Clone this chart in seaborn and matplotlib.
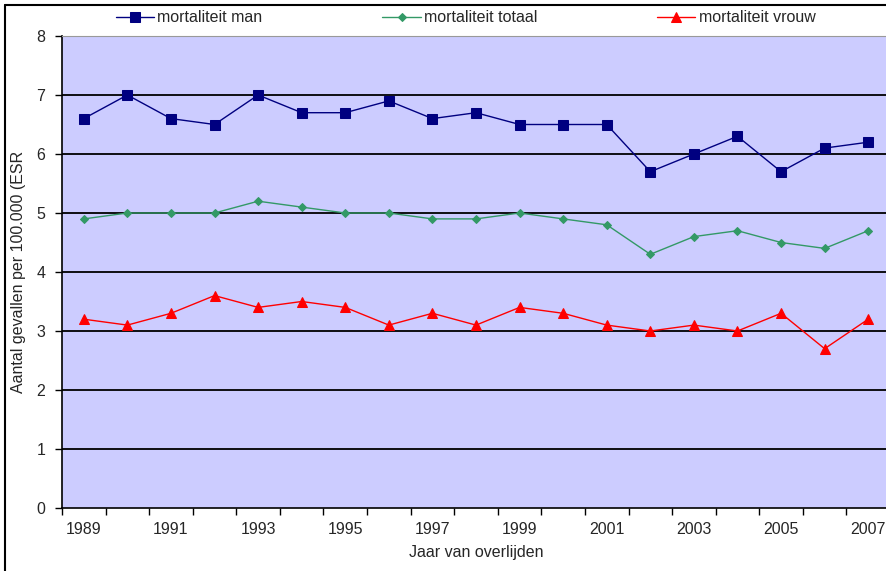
import pandas as pd
import numpy as np
import matplotlib.pyplot as plt
import seaborn as sns
from matplotlib.ticker import FixedLocator

years = list(range(1989, 2008))
man = [6.6, 7.0, 6.6, 6.5, 7.0, 6.7, 6.7, 6.9, 6.6, 6.7, 6.5, 6.5, 6.5, 5.7, 6.0, 6.3, 5.7, 6.1, 6.2]
totaal = [4.9, 5.0, 5.0, 5.0, 5.2, 5.1, 5.0, 5.0, 4.9, 4.9, 5.0, 4.9, 4.8, 4.3, 4.6, 4.7, 4.5, 4.4, 4.7]
vrouw = [3.2, 3.1, 3.3, 3.6, 3.4, 3.5, 3.4, 3.1, 3.3, 3.1, 3.4, 3.3, 3.1, 3.0, 3.1, 3.0, 3.3, 2.7, 3.2]
series_names = ['mortaliteit man', 'mortaliteit totaal', 'mortaliteit vrouw']
year_labels = [str(y) for y in range(1989, 2008, 2)]

df = pd.DataFrame({'Jaar': years, series_names[0]: man,
                   series_names[1]: totaal, series_names[2]: vrouw})
long_df = df.melt(id_vars='Jaar', var_name='reeks', value_name='waarde')

sns.set_style('white')
plt.rcParams['font.family'] = ['Liberation Sans', 'DejaVu Sans']

fig = plt.figure(figsize=(8.87, 5.71), dpi=100)
ax = fig.add_axes([62 / 887, 1 - 508 / 571, 828 / 887, (508 - 36) / 571])
ax.set_facecolor('#CCCCFF')

colors = {series_names[0]: '#000080', series_names[1]: '#339966', series_names[2]: '#FF0000'}
markers = {series_names[0]: 's', series_names[1]: 'D', series_names[2]: '^'}
sizes = {series_names[0]: 6.5, series_names[1]: 4.5, series_names[2]: 6.5}

for name in series_names:
    sub = long_df[long_df['reeks'] == name]
    sns.lineplot(data=sub, x='Jaar', y='waarde', ax=ax, color=colors[name],
                 marker=markers[name], markersize=sizes[name], markeredgecolor=colors[name],
                 linewidth=1, label=name, legend=False)

ax.set_xlim(1988.5, 2007.5)
ax.set_ylim(0, 8)
ax.set_yticks(range(0, 9))
for y in range(1, 8):
    ax.axhline(y, color='black', linewidth=1.3, zorder=0.5)

ax.xaxis.set_major_locator(FixedLocator([1988.5 + k for k in range(20)]))
ax.xaxis.set_minor_locator(FixedLocator(list(range(1989, 2008, 2))))
ax.set_xticklabels([])
ax.set_xticklabels(year_labels, minor=True)
ax.tick_params(axis='x', which='major', length=5, width=1, color='black', direction='out', bottom=True)
ax.tick_params(axis='x', which='minor', length=0, pad=10, labelsize=11.5)
ax.tick_params(axis='y', length=5, width=1, color='black', direction='out', left=True, labelsize=11.5, pad=7)

for side in ['left', 'bottom']:
    ax.spines[side].set_color('black')
    ax.spines[side].set_linewidth(1.2)
ax.spines['top'].set_color('#999999')
ax.spines['right'].set_visible(False)

ax.set_xlabel('Jaar van overlijden', fontsize=11.5, labelpad=6)
ax.set_ylabel('Aantal gevallen per 100.000 (ESR', fontsize=11.5)
ax.yaxis.set_label_coords(-0.044, 0.5)

handles, labels = ax.get_legend_handles_labels()
fig.legend(handles, labels, loc='center', bbox_to_anchor=(0.525, 1 - 18 / 571), ncol=3,
           frameon=False, fontsize=11.5, columnspacing=7.5, handlelength=2.4, handletextpad=0.2)

# outer frame (right and bottom edges are cut off in the original)
fig.add_artist(plt.Line2D([5 / 887, 5 / 887], [0, 1 - 5 / 571], transform=fig.transFigure,
                          color='black', linewidth=1.5))
fig.add_artist(plt.Line2D([5 / 887, 1], [1 - 5 / 571, 1 - 5 / 571], transform=fig.transFigure,
                          color='black', linewidth=1.5))

plt.savefig('out.png', dpi=100)
